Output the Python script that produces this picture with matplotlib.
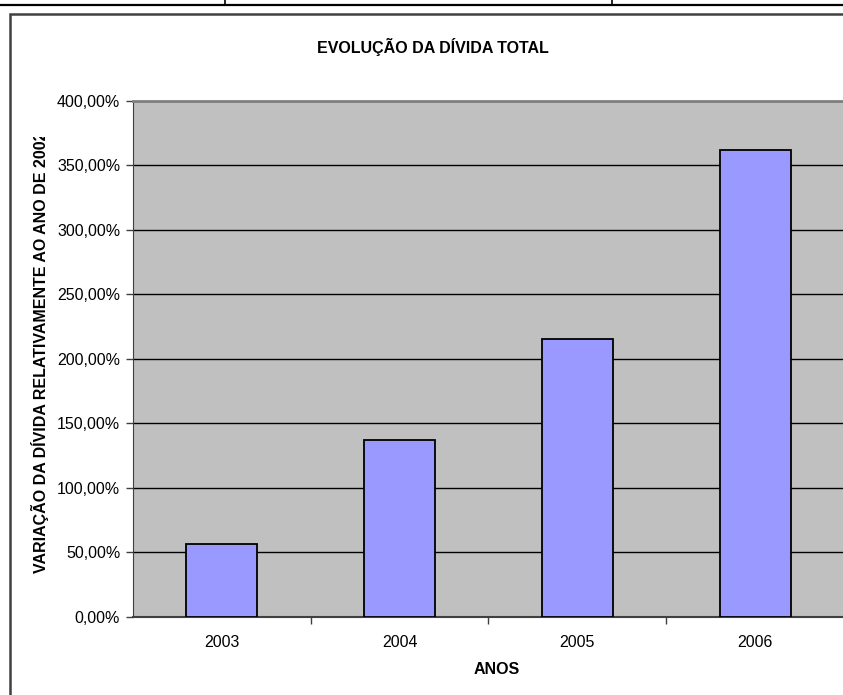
import matplotlib.pyplot as plt
from matplotlib.patches import Rectangle
from matplotlib.lines import Line2D
from matplotlib.ticker import FuncFormatter, FixedLocator
from matplotlib.transforms import Bbox

plt.rcParams['font.family'] = ['Liberation Sans', 'DejaVu Sans']

# Variação da dívida total relativamente a 2002 (%)
anos = ['2003', '2004', '2005', '2006']
variacao = [56.1, 136.7, 215.3, 362.0]

W, H = 843, 695
fig = plt.figure(figsize=(W / 100, H / 100), dpi=100)

# resto da tabela por cima do gráfico
fig.add_artist(Line2D([0, 1], [1 - 5 / H, 1 - 5 / H], color='black', lw=1.6))
for xv in (225, 612):
    fig.add_artist(Line2D([xv / W, xv / W], [1, 1 - 5 / H], color='black', lw=1.2))

# moldura do gráfico
fig.add_artist(Rectangle((10 / W, -0.05), 1.1, 1 - 14 / H + 0.05, fill=False,
                         edgecolor='#404040', lw=1.8))

ax = fig.add_axes([132.7 / W, (H - 616.7) / H, 711.5 / W, 516 / H])
ax.set_facecolor('#C0C0C0')

x = range(len(anos))
ax.bar(x, variacao, width=0.4, color='#9999FF', edgecolor='black', lw=1.3, zorder=3)

ax.set_xlim(-0.5, 3.5)
ax.set_ylim(0, 400)
ax.yaxis.set_major_locator(FixedLocator(range(0, 401, 50)))
ax.yaxis.set_major_formatter(FuncFormatter(lambda v, p: f'{v:.2f}%'.replace('.', ',')))
ax.grid(axis='y', color='black', lw=1.0, zorder=1)
ax.set_axisbelow(True)

ax.set_xticks([0.5, 1.5, 2.5, 3.5])
ax.set_xticklabels([])
ax.set_xticks(list(x), minor=True)
ax.set_xticklabels(anos, minor=True)
ax.tick_params(axis='x', which='minor', length=0, pad=13, labelsize=11.5)
ax.tick_params(axis='x', which='major', length=5, width=1, color='#404040')
ax.tick_params(axis='y', length=5, width=1, color='#404040', labelsize=11.5, pad=4)

ax.spines['right'].set_visible(False)
ax.spines['top'].set_color('#808080')
ax.spines['top'].set_linewidth(2)
ax.spines['left'].set_color('#404040')
ax.spines['bottom'].set_color('#404040')
ax.spines['bottom'].set_linewidth(1.5)

fig.text(433 / W, 1 - 47 / H, 'EVOLUÇÃO DA DÍVIDA TOTAL', ha='center', va='center',
         fontsize=11.5, fontweight='bold')
fig.text(497 / W, 1 - 670 / H, 'ANOS', ha='center', va='center',
         fontsize=11.5, fontweight='bold')

yl = fig.text(40 / W, 1 - 573 / H, 'VARIAÇÃO DA DÍVIDA RELATIVAMENTE AO ANO DE 2002',
              rotation=90, ha='center', va='bottom', fontsize=11.5, fontweight='bold')
yl.set_clip_box(Bbox.from_extents(0, 0, W, H - 137))
yl.set_clip_on(True)

fig.savefig('out.png', dpi=100)
